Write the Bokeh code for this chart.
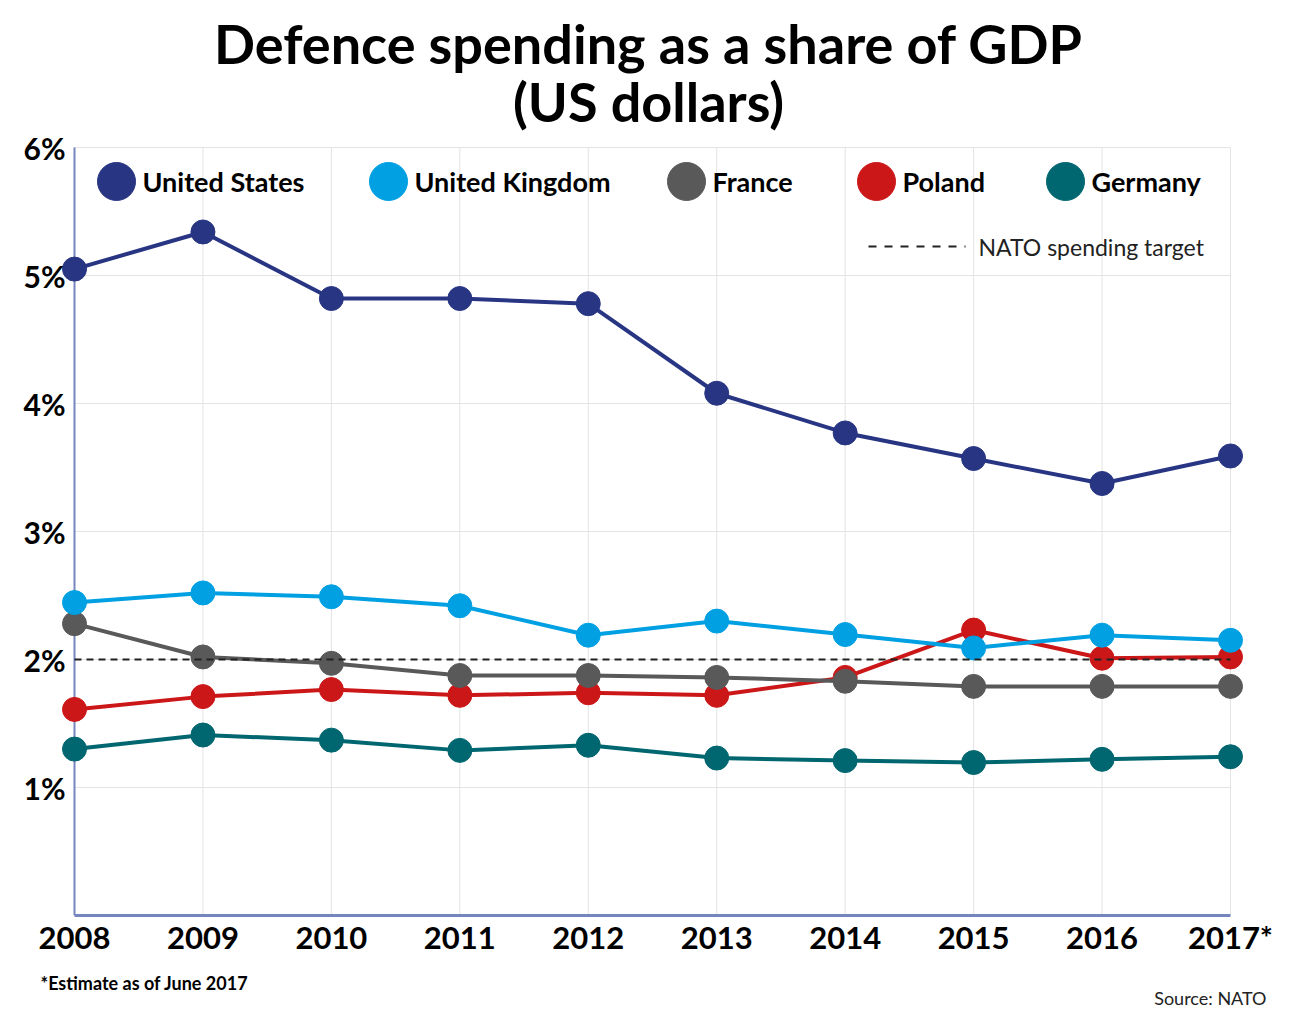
from bokeh.plotting import figure
from bokeh.models import FixedTicker, Range1d, Title
from bokeh.core.properties import value
from bokeh.embed import file_html
from bokeh.resources import INLINE

# ---- data ----
years = [2008, 2009, 2010, 2011, 2012, 2013, 2014, 2015, 2016, 2017]
year_labels = ["2008", "2009", "2010", "2011", "2012", "2013", "2014", "2015", "2016", "2017*"]
y_ticks = [1, 2, 3, 4, 5, 6]
y_tick_labels = ["1%", "2%", "3%", "4%", "5%", "6%"]
nato_target = 2.0

united_states = [5.05, 5.34, 4.82, 4.82, 4.78, 4.08, 3.77, 3.57, 3.375, 3.59]
united_kingdom = [2.445, 2.52, 2.49, 2.42, 2.19, 2.30, 2.195, 2.09, 2.19, 2.15]
france = [2.28, 2.02, 1.97, 1.875, 1.875, 1.86, 1.83, 1.79, 1.79, 1.79]
poland = [1.61, 1.71, 1.765, 1.72, 1.74, 1.72, 1.86, 2.23, 2.01, 2.02]
germany = [1.30, 1.41, 1.37, 1.29, 1.33, 1.23, 1.21, 1.195, 1.22, 1.24]

names = ["United States", "United Kingdom", "France", "Poland", "Germany"]
colors = ["#283583", "#00a0e3", "#595959", "#cc1719", "#00666f"]
series = [united_states, united_kingdom, france, poland, germany]

title_lines = ["Defence spending as a share of GDP", "(US dollars)"]
footnote = "*Estimate as of June 2017"
source = "Source: NATO"

# ---- layout constants (pixels) ----
W, H = 1278, 1008
FX0, FX1 = 74, 1230       # x of first / last year
FY0 = 915                 # y of 0%
PXY = 128.0               # px per 1%
PAD = 14
PXX = (FX1 - FX0) / (years[-1] - years[0])
FONT = "Lato"
GRID = "#e3e3e3"
AXIS = "#7585bd"


def dx(px):
    return years[0] + (px - FX0) / PXX


def dy(py):
    return (FY0 - py) / PXY


frame_left = FX0 - PAD
frame_right = FX1 + PAD

p = figure(width=W, height=H, output_backend="svg", toolbar_location=None,
           x_range=Range1d(dx(frame_left), dx(frame_right)),
           y_range=Range1d(0, dy(0)),
           min_border_left=frame_left,
           min_border_right=W - frame_right,
           min_border_top=0,
           min_border_bottom=H - FY0)
p.outline_line_color = None
p.xgrid.visible = False
p.ygrid.visible = False

# x axis
p.xaxis.ticker = FixedTicker(ticks=years)
p.xaxis.major_label_overrides = {y: l for y, l in zip(years, year_labels)}
p.xaxis.bounds = (years[0], years[-1])
p.xaxis.axis_line_color = AXIS
p.xaxis.axis_line_width = 3
p.xaxis.major_tick_line_color = None
p.xaxis.minor_tick_line_color = None
p.xaxis.major_label_text_font = FONT
p.xaxis.major_label_text_font_style = "bold"
p.xaxis.major_label_text_font_size = "31px"
p.xaxis.major_label_text_color = "black"
p.xaxis.major_label_standoff = -4

# y axis
p.yaxis.ticker = FixedTicker(ticks=y_ticks)
p.yaxis.major_label_overrides = {t: l for t, l in zip(y_ticks, y_tick_labels)}
p.yaxis.axis_line_color = None
p.yaxis.major_tick_line_color = None
p.yaxis.minor_tick_line_color = None
p.yaxis.major_label_text_font = FONT
p.yaxis.major_label_text_font_style = "bold"
p.yaxis.major_label_text_font_size = "30px"
p.yaxis.major_label_text_color = "black"
p.yaxis.major_label_standoff = -11

# grid lines (limited to the data area)
p.segment(x0=years, x1=years, y0=[0] * len(years), y1=[y_ticks[-1]] * len(years),
          line_color=GRID, line_width=1)
p.segment(x0=[years[0]] * len(y_ticks), x1=[years[-1]] * len(y_ticks),
          y0=y_ticks, y1=y_ticks, line_color=GRID, line_width=1)
# left axis line
p.segment(x0=[years[0]], x1=[years[0]], y0=[0], y1=[y_ticks[-1]],
          line_color=AXIS, line_width=2)

# series
for name, col, vals in reversed(list(zip(names, colors, series))):
    p.line(years, vals, line_color=col, line_width=4)
    p.scatter(years, vals, size=24, fill_color=col, line_color=col)

p.line([years[0], years[-1]], [nato_target, nato_target], line_color="#222222",
       line_width=2, line_dash="7 5")

# custom legend
leg_circle_px = [116, 388, 686, 876, 1065]
leg_y = dy(181)
p.scatter([dx(c) for c in leg_circle_px], [leg_y] * len(names), size=38,
          fill_color=colors, line_color=colors)
p.text(x=[dx(c + 26) for c in leg_circle_px], y=[leg_y] * len(names), text=names,
       text_font=value(FONT), text_font_style="bold", text_font_size="27px",
       text_baseline="middle", text_align="left", text_color="black")
p.line([dx(868), dx(965)], [dy(246), dy(246)], line_color="#222222", line_width=2,
       line_dash="8 8")
p.text(x=[dx(978)], y=[dy(246)], text=["NATO spending target"], text_font=value(FONT),
       text_font_size="23px", text_baseline="middle", text_align="left",
       text_color="#222222")

# title (two lines)
p.text(x=[dx(648)] * 2, y=[dy(43), dy(101)], text=title_lines, text_font=value(FONT),
       text_font_style="bold", text_font_size="54px", text_align="center",
       text_baseline="middle", text_color="black")

# footer notes
p.add_layout(Title(text=footnote, align="left", offset=40 - frame_left,
                   text_font=FONT, text_font_style="bold", text_font_size="18px",
                   text_color="black", vertical_align="top", standoff=26), "below")
p.add_layout(Title(text=source, align="right", offset=frame_right - 1266,
                   text_font=FONT, text_font_style="normal", text_font_size="18px",
                   text_color="#222222", vertical_align="top", standoff=-44), "below")

open("out.html", "w").write(file_html(p, INLINE))
